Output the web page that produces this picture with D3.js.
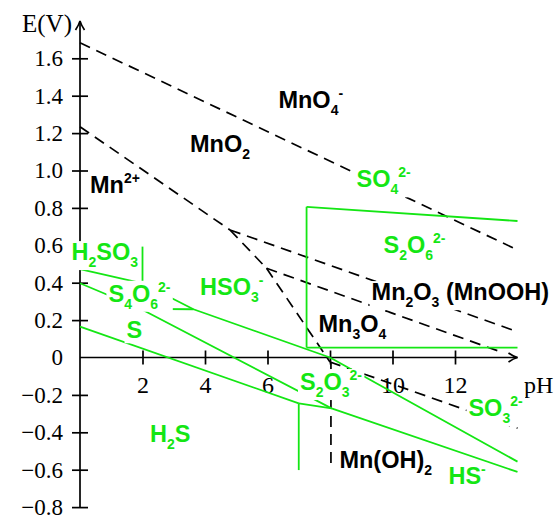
<!DOCTYPE html>
<html><head><meta charset="utf-8">
<script src="https://cdn.jsdelivr.net/npm/d3@7"></script>
<style>body{margin:0;background:#fff}svg{display:block}</style>
</head><body><svg id="c" width="556" height="517"></svg>
<script>
// ---- data ----
const xTicks = [2, 4, 6, 8, 10, 12];
const xTickLabels = ["2", "4", "6", "", "10", "12"];
const yTicks = [-0.8, -0.6, -0.4, -0.2, 0, 0.2, 0.4, 0.6, 0.8, 1.0, 1.2, 1.4, 1.6];

// Mn boundaries (dashed black), [pH, E]
const mnO4_MnO2   = [[0, 1.683], [14, 0.575]];
const mn2_MnO2    = [[0, 1.234], [4.8, 0.682]];
const mnO2_Mn2O3  = [[4.8, 0.682], [14, 0.138]];
const mn2_Mn2O3   = [[4.8, 0.682], [5.97, 0.477]];
const mn2O3_Mn3O4 = [[5.97, 0.477], [13.55, 0.025]];
const mn2_Mn3O4   = [[5.97, 0.477], [8.0, -0.024]];
const mnOH_Mn3O4  = [[8.0, -0.024], [14, -0.378]];
const mn2_MnOH    = [[8.03, -0.024], [8.03, -0.6]];
const mnLines = [mnO4_MnO2, mn2_MnO2, mnO2_Mn2O3, mn2_Mn2O3, mn2O3_Mn3O4, mn2_Mn3O4, mnOH_Mn3O4, mn2_MnOH];

// S boundaries (green), [pH, E]
const so4_S2O6    = [[7.25, 0.806], [14, 0.730]];
const s2o6_left   = [[7.25, 0.806], [7.25, 0.053]];
const s2o6_bottom = [[7.25, 0.053], [14, 0.053]];
const h2so3_hso3  = [[2, 0.593], [2, 0.397]];
const h2so3_s4o6  = [[0, 0.472], [2, 0.397]];
const lineB       = [[0, 0.397], [1.92, 0.262], [8.05, -0.272], [14, -0.612]];
const s_h2s       = [[0, 0.165], [7.0, -0.245]];
const h2s_hs      = [[7.0, -0.245], [7.0, -0.602]];
const s_hs        = [[7.0, -0.245], [8.05, -0.272]];
const lineC       = [[2, 0.397], [3.63, 0.258], [8.0, 0.0], [14, -0.557]];
const s4o6_short  = [[1.92, 0.26], [3.63, 0.258]];
const sLines = [so4_S2O6, s2o6_left, s2o6_bottom, h2so3_hso3, h2so3_s4o6, lineB, s_h2s, h2s_hs, s_hs, lineC, s4o6_short];

// labels: parts [text, kind], position [pH, E] of baseline start
const mnLabels = [
  {parts: [["MnO",""],["4","sub"],["-","sup"]], at: [6.35, 1.334]},
  {parts: [["MnO",""],["2","sub"]], at: [3.52, 1.10]},
  {parts: [["Mn",""],["2+","sup"]], at: [0.32, 0.878]},
  {parts: [["Mn",""],["2","sub"],["O",""],["3","sub"],[" (MnOOH)",""]], at: [9.33, 0.307]},
  {parts: [["Mn",""],["3","sub"],["O",""],["4","sub"]], at: [7.63, 0.138]},
  {parts: [["Mn(OH)",""],["2","sub"]], at: [8.30, -0.593]}
];
const sLabels = [
  {parts: [["SO",""],["4","sub"],["2-","sup"]], at: [8.85, 0.910]},
  {parts: [["S",""],["2","sub"],["O",""],["6","sub"],["2-","sup"]], at: [9.71, 0.557]},
  {parts: [["H",""],["2","sub"],["SO",""],["3","sub"]], at: [-0.27, 0.521]},
  {parts: [["S",""],["4","sub"],["O",""],["6","sub"],["2-","sup"]], at: [0.91, 0.298]},
  {parts: [["HSO",""],["3","sub"],["-","sup"]], at: [3.84, 0.334]},
  {parts: [["S",""]], at: [1.49, 0.103]},
  {parts: [["H",""],["2","sub"],["S",""]], at: [2.24, -0.450]},
  {parts: [["S",""],["2","sub"],["O",""],["3","sub"],["2-","sup"]], at: [7.04, -0.174]},
  {parts: [["SO",""],["3","sub"],["2-","sup"]], at: [12.43, -0.313]},
  {parts: [["HS",""],["-","sup"]], at: [11.79, -0.676]}
];

// ---- drawing ----
const GREEN = "#14e614";
const svg = d3.select("#c");
const x = d3.scaleLinear().domain([0, 14]).range([80, 517.5]);
const y = d3.scaleLinear().domain([-0.8, 1.6]).range([507.1, 58.3]);
const serif = "'Liberation Serif', 'Times New Roman', serif";
const sans = "'Liberation Sans', Arial, sans-serif";

// axes lines
const axG = svg.append("g");
axG.append("line").attr("x1", x(0)).attr("x2", x(0)).attr("y1", y(-0.8)).attr("y2", y(1.8))
  .attr("stroke", "#000").attr("stroke-width", 1.7);
axG.append("line").attr("x1", x(0)).attr("x2", x(14)).attr("y1", y(0)).attr("y2", y(0))
  .attr("stroke", "#000").attr("stroke-width", 1.7);
// arrow heads
axG.append("path").attr("d", `M${x(0)-4.5},${y(1.8)+9} Q${x(0)-1},${y(1.8)+4} ${x(0)},${y(1.8)} Q${x(0)+1},${y(1.8)+4} ${x(0)+4.5},${y(1.8)+9}`)
  .attr("fill", "none").attr("stroke", "#000").attr("stroke-width", 1.7);
axG.append("path").attr("d", `M${x(14)-9},${y(0)-4.5} Q${x(14)-4},${y(0)-1} ${x(14)},${y(0)} Q${x(14)-4},${y(0)+1} ${x(14)-9},${y(0)+4.5}`)
  .attr("fill", "none").attr("stroke", "#000").attr("stroke-width", 1.7);

// y axis ticks
const yAx = svg.append("g").attr("transform", `translate(${x(0)},0)`)
  .call(d3.axisLeft(y).tickValues(yTicks).tickSize(8).tickPadding(9)
    .tickFormat(d => Math.abs(d) < 1e-9 ? "0" : d3.format(".1f")(d)));
yAx.select(".domain").remove();
yAx.selectAll(".tick line").attr("x1", 8).attr("stroke-width", 1.7);
yAx.selectAll(".tick").filter(d => Math.abs(d) < 1e-9).select("line").remove();
yAx.selectAll("text").attr("font-family", serif).attr("font-size", 23).attr("fill", "#000");

// x axis ticks
const xAx = svg.append("g").attr("transform", `translate(0,${y(0)})`)
  .call(d3.axisBottom(x).tickValues(xTicks).tickSize(7).tickPadding(11.5)
    .tickFormat((d, i) => xTickLabels[i]));
xAx.select(".domain").remove();
xAx.selectAll(".tick line").attr("y1", -7).attr("stroke-width", 1.7);
xAx.selectAll("text").attr("font-family", serif).attr("font-size", 24).attr("fill", "#000");

svg.append("text").attr("x", 72).attr("y", 32).attr("text-anchor", "end")
  .attr("font-family", serif).attr("font-size", 25).text("E(V)");
svg.append("text").attr("x", 524).attr("y", 393)
  .attr("font-family", serif).attr("font-size", 24).text("pH");

// lines
const line = d3.line().x(d => x(d[0])).y(d => y(d[1]));
svg.append("g").selectAll("path").data(mnLines).join("path")
  .attr("d", line).attr("fill", "none").attr("stroke", "#000")
  .attr("stroke-width", 1.7).attr("stroke-dasharray", "11,7");
svg.append("g").selectAll("path").data(sLines).join("path")
  .attr("d", line).attr("fill", "none").attr("stroke", GREEN)
  .attr("stroke-width", 1.8).attr("stroke-linejoin", "round");

// labels with white knockout
function drawLabel(g, lab, color) {
  const grp = g.append("g");
  const t = grp.append("text").attr("x", x(lab.at[0])).attr("y", y(lab.at[1]))
    .attr("font-family", sans).attr("font-weight", "bold").attr("fill", color)
    .attr("font-size", 23.5);
  let cur = 0;
  lab.parts.forEach(([txt, kind]) => {
    const off = kind === "sub" ? 7 : kind === "sup" ? -10 : 0;
    const ts = t.append("tspan").attr("dy", off - cur).text(txt);
    if (kind) ts.attr("font-size", 14);
    cur = off;
  });
  const bb = t.node().getBBox();
  grp.insert("rect", "text").attr("x", bb.x - 2).attr("y", bb.y + 2)
    .attr("width", bb.width + 4).attr("height", bb.height - 2).attr("fill", "#fff");
}
const labG = svg.append("g");
mnLabels.forEach(l => drawLabel(labG, l, "#000"));
sLabels.forEach(l => drawLabel(labG, l, GREEN));
</script>
</body></html>
